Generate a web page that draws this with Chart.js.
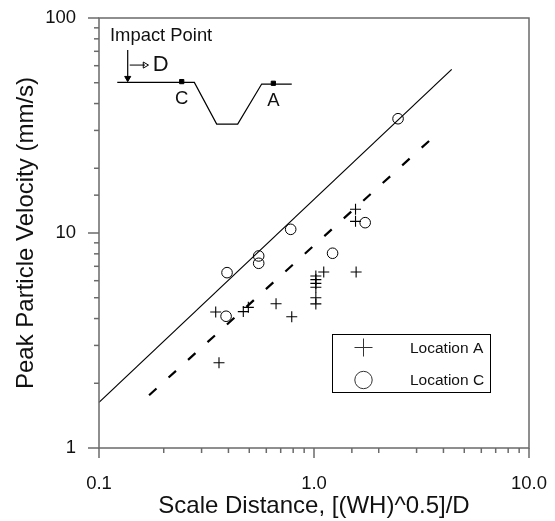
<!DOCTYPE html>
<html>
<head>
<meta charset="utf-8">
<script src="https://cdn.jsdelivr.net/npm/chart.js@4/dist/chart.umd.min.js"></script>
<style>
    html, body { margin: 0; padding: 0; background: #fff; }
    canvas { display: block; }
</style>
</head>
<body>
<canvas id="chart" width="555" height="521"></canvas>
<script>
// Values
var xTickLabels = ['0.1', '1.0', '10.0'];
var yTickLabels = ['1', '10', '100'];
var seriesNames = ['Location A', 'Location C'];

var locationAX = [0.3615, 0.349, 0.469, 0.495, 0.666, 0.788, 1.02, 1.02, 1.02, 1.02, 1.02, 1.02, 1.11, 1.57, 1.56, 1.56];
var locationAY = [2.49, 4.29, 4.31, 4.51, 4.69, 4.08, 4.68, 5.0, 5.59, 5.83, 6.07, 6.31, 6.59, 6.59, 11.33, 12.9];

var locationCX = [0.394, 0.39, 0.553, 0.553, 0.779, 1.22, 1.73, 2.46];
var locationCY = [6.54, 4.1, 7.82, 7.23, 10.4, 8.05, 11.17, 34];

var solidFitX = [0.1, 4.37];
var solidFitY = [1.63, 57.7];
var dashedFitX = [0.171, 3.43];
var dashedFitY = [1.76, 26.8];

// Inset schematic of the cut, in the chart's own units
var profileX = [0.1216, 0.2776, 0.3527, 0.4416, 0.571, 0.788];
var profileY = [50.2, 50.2, 32.1, 32.1, 49.3, 49.3];
var gaugeX = [0.2425, 0.647];
var gaugeY = [50.6, 49.7];
var impactX = [0.136, 0.136];
var impactY = [71, 52.5];
var distanceX = [0.139, 0.1637];
var distanceY = [60.4, 60.4];

var AXIS_COLOR = '#6a6a6a';
var TEXT_COLOR = '#111';
var FONT = '"Liberation Sans", Arial, sans-serif';

function zip(xs, ys) {
    return xs.map(function(x, i) {
        return { x: x, y: ys[i] };
    });
}

function isDecade(value) {
    var log = Math.log10(value);
    return Math.abs(log - Math.round(log)) < 1e-6;
}

function decadeLabel(labels, min) {
    return function(value) {
        if (!isDecade(value)) {
            return '';
        }
        return labels[Math.round(Math.log10(value / min))];
    };
}

function markLine(data, width, dash) {
    return {
        data: data,
        showLine: true,
        borderColor: '#000',
        borderWidth: width,
        borderDash: dash || [],
        pointRadius: 0,
        clip: false
    };
}

// Frame, two tick lengths and the inset text
var decorations = {
    id: 'decorations',
    afterDraw: function(chart) {
        var ctx = chart.ctx;
        var area = chart.chartArea;
        var xScale = chart.scales.x;
        var yScale = chart.scales.y;

        ctx.save();
        ctx.strokeStyle = AXIS_COLOR;
        ctx.lineWidth = 1.5;
        ctx.strokeRect(area.left, area.top, area.right - area.left, area.bottom - area.top);

        xScale.ticks.forEach(function(tick) {
            var px = xScale.getPixelForValue(tick.value);
            ctx.beginPath();
            ctx.moveTo(px, area.bottom);
            ctx.lineTo(px, area.bottom + (isDecade(tick.value) ? 10 : 5));
            ctx.stroke();
        });
        yScale.ticks.forEach(function(tick) {
            var py = yScale.getPixelForValue(tick.value);
            ctx.beginPath();
            ctx.moveTo(area.left, py);
            ctx.lineTo(area.left - (isDecade(tick.value) ? 11 : 5), py);
            ctx.stroke();
        });

        // inset labels
        ctx.fillStyle = TEXT_COLOR;
        ctx.textBaseline = 'middle';
        ctx.textAlign = 'left';
        ctx.font = '18.4px ' + FONT;
        ctx.fillText('Impact Point', xScale.getPixelForValue(0.1125), yScale.getPixelForValue(82.5));
        ctx.font = '22px ' + FONT;
        ctx.fillText('D', xScale.getPixelForValue(0.178), yScale.getPixelForValue(60.4));
        ctx.font = '18.5px ' + FONT;
        ctx.textAlign = 'center';
        ctx.fillText('C', xScale.getPixelForValue(gaugeX[0]), yScale.getPixelForValue(41.9));
        ctx.fillText('A', xScale.getPixelForValue(gaugeX[1]), yScale.getPixelForValue(41.2));

        // legend box
        var box = { left: 332, top: 334, width: 158, height: 58 };
        ctx.strokeStyle = '#000';
        ctx.lineWidth = 1;
        ctx.strokeRect(box.left + 0.5, box.top + 0.5, box.width, box.height);

        var keyX = box.left + 31.5;
        var rowA = box.top + 13.5;
        var rowC = box.top + 46;
        ctx.strokeStyle = '#333';
        ctx.beginPath();
        ctx.moveTo(keyX - 9, rowA);
        ctx.lineTo(keyX + 9, rowA);
        ctx.moveTo(keyX, rowA - 9);
        ctx.lineTo(keyX, rowA + 9);
        ctx.stroke();
        ctx.beginPath();
        ctx.arc(keyX, rowC, 8.7, 0, Math.PI * 2);
        ctx.stroke();

        ctx.fillStyle = TEXT_COLOR;
        ctx.textAlign = 'left';
        ctx.font = '15.5px ' + FONT;
        ctx.fillText(seriesNames[0], box.left + 78, box.top + 15);
        ctx.fillText(seriesNames[1], box.left + 78, box.top + 47);
        ctx.restore();
    }
};

var solidFit = markLine(zip(solidFitX, solidFitY), 1.2);
var dashedFit = markLine(zip(dashedFitX, dashedFitY), 2.2, [10, 16.3]);
var profile = markLine(zip(profileX, profileY), 1.2);
var impact = markLine(zip(impactX, impactY), 1.2);
var distance = markLine(zip(distanceX, distanceY), 1);

new Chart(document.getElementById('chart'), {
    type: 'scatter',
    data: {
        datasets: [
            {
                label: seriesNames[0],
                data: zip(locationAX, locationAY),
                pointStyle: 'cross',
                pointRadius: 5.5,
                pointBorderColor: '#000',
                pointBorderWidth: 1.1
            },
            {
                label: seriesNames[1],
                data: zip(locationCX, locationCY),
                pointStyle: 'circle',
                pointRadius: 5.3,
                pointBackgroundColor: 'rgba(0,0,0,0)',
                pointBorderColor: '#000',
                pointBorderWidth: 1
            },
            solidFit,
            dashedFit,
            profile,
            impact,
            distance,
            {
                // gauge markers on the profile
                data: zip(gaugeX, gaugeY),
                pointStyle: 'rect',
                pointRadius: 3,
                pointBackgroundColor: '#000',
                pointBorderColor: '#000'
            },
            {
                // impact arrow head
                data: zip([impactX[1]], [impactY[1]]),
                pointStyle: 'triangle',
                rotation: 180,
                pointRadius: 3.5,
                pointBackgroundColor: '#000',
                pointBorderColor: '#000'
            },
            {
                // distance arrow head
                data: zip([distanceX[1]], [distanceY[1]]),
                pointStyle: 'triangle',
                rotation: 90,
                pointRadius: 3.5,
                pointBackgroundColor: '#fff',
                pointBorderColor: '#000',
                pointBorderWidth: 1
            }
        ]
    },
    options: {
        responsive: false,
        animation: false,
        layout: { padding: 0 },
        plugins: {
            legend: { display: false },
            tooltip: { enabled: false }
        },
        scales: {
            x: {
                type: 'logarithmic',
                min: 0.1,
                max: 10,
                afterFit: function(scale) {
                    scale.height = 73;
                    scale.paddingLeft = 0;
                    scale.paddingRight = 26;
                },
                grid: { display: false },
                border: { display: false },
                ticks: {
                    autoSkip: false,
                    maxRotation: 0,
                    padding: 17,
                    color: TEXT_COLOR,
                    font: { family: FONT, size: 18.5 },
                    callback: decadeLabel(xTickLabels, 0.1)
                },
                title: {
                    display: true,
                    text: 'Scale Distance, [(WH)^0.5]/D',
                    color: TEXT_COLOR,
                    font: { family: FONT, size: 24 },
                    padding: { top: 0, bottom: 0 }
                }
            },
            y: {
                type: 'logarithmic',
                min: 1,
                max: 100,
                afterFit: function(scale) {
                    scale.width = 99;
                    scale.paddingTop = 18;
                    scale.paddingBottom = 0;
                },
                grid: { display: false },
                border: { display: false },
                ticks: {
                    autoSkip: false,
                    padding: 15,
                    color: TEXT_COLOR,
                    font: { family: FONT, size: 18.5 },
                    callback: decadeLabel(yTickLabels, 1)
                },
                title: {
                    display: true,
                    text: 'Peak Particle Velocity (mm/s)',
                    color: TEXT_COLOR,
                    font: { family: FONT, size: 24 },
                    padding: { top: 12, bottom: 0 }
                }
            }
        }
    },
    plugins: [decorations]
});
</script>
</body>
</html>
